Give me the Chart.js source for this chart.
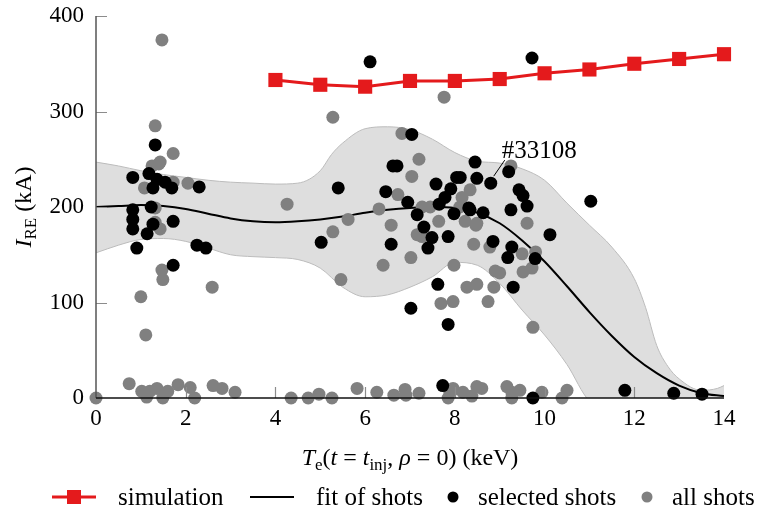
<!DOCTYPE html>
<html>
<head>
<meta charset="utf-8">
<script src="https://cdn.jsdelivr.net/npm/chart.js@4"></script>
<style>
	html, body { margin: 0; padding: 0; background: #fff; }
	canvas { display: block; }
</style>
</head>
<body>
<canvas id="chart" width="761" height="511"></canvas>
<script>
// Simulation (red squares)
const simTe = [4, 5, 6, 7, 8, 9, 10, 11, 12, 13, 14];
const simIre = [333, 328, 326, 332, 332, 334, 340, 344, 350, 355, 360];

// Fit of shots (black curve)
const fitTe = [0, 0.5, 1, 1.5, 2, 2.5, 3, 3.5, 4, 4.5, 5, 5.5, 6, 6.5, 7, 7.5, 8, 8.5, 9, 9.5, 10, 10.5, 11, 11.5, 12, 12.5, 13, 13.5, 14];
const fitIre = [200, 201, 202, 201, 198, 193, 188, 185, 184, 185, 187, 190, 194, 197, 199, 200, 199, 194, 183, 165, 143, 117, 90, 65, 43, 26, 13, 5, 2];

// Uncertainty band of the fit
const bandHighTe = [0, 0.5, 1, 1.5, 2, 2.5, 3, 3.5, 4, 4.5, 5, 5.25, 5.5, 6, 6.5, 7, 7.5, 8, 8.5, 9, 9.5, 10, 10.5, 11, 11.5, 12, 12.25, 12.5, 12.75, 13, 13.5, 13.85, 14];
const bandHighIre = [247, 243, 238, 234, 231, 228, 226, 225, 224, 225, 238, 255, 267, 282, 284, 281, 271, 257, 248, 246, 240, 228, 204, 181, 158, 125, 95, 55, 33, 20, 8, 10, 13];
const bandLowTe = [0, 0.5, 1, 1.5, 2, 2.5, 3, 3.5, 4, 4.5, 5, 5.5, 6, 6.5, 7, 7.5, 8, 8.5, 9, 9.5, 10, 10.5, 11, 11.5, 14];
const bandLowIre = [152, 160, 166, 167, 164, 157, 150, 148, 147, 145, 136, 116, 106, 108, 116, 127, 142, 139, 120, 92, 66, 35, -3, -10, -10];

// Selected shots (black dots)
const selTe = [1.32, 0.82, 1.18, 1.36, 1.54, 1.69, 1.27, 2.30, 0.82, 1.23, 0.82, 1.72, 1.27, 0.82, 1.14, 0.91, 2.25, 2.45, 1.72,
	6.11, 9.72, 5.40, 5.02, 6.58, 6.46, 6.62, 6.71, 7.04, 6.95, 7.16, 7.31, 7.49, 7.40, 7.62, 7.58, 7.91, 7.78, 7.65, 8.04, 8.12,
	7.85, 7.98, 7.02, 7.85, 9.30, 9.79, 9.18, 9.27, 8.85, 8.45, 8.49, 8.31, 8.80, 9.43, 9.52, 9.61, 9.25, 8.63, 8.34, 10.12,
	9.20, 11.03, 7.73, 9.74, 11.79, 12.88, 13.51];
const selIre = [265, 231, 235, 229, 226, 220, 220, 221, 197, 200, 187, 185, 182, 177, 172, 157, 160, 157, 139,
	352, 356, 220, 163, 161, 216, 243, 243, 276, 205, 192, 179, 168, 157, 119, 224, 219, 210, 203, 231, 231,
	169, 193, 94, 77, 116, 146, 147, 158, 164, 247, 230, 199, 225, 218, 212, 201, 197, 194, 197, 171,
	237, 206, 13, 0, 8, 5, 4];

// All shots (grey dots)
const allTe = [1.47, 1.32, 1.72, 1.40, 1.25, 1.43, 2.05, 1.08, 1.72, 1.43, 1.32, 1.32, 1.47, 1.49, 2.59, 1.00, 1.11,
	0, 0.74, 1.02, 1.13, 1.20, 1.36, 1.49, 1.60, 1.83, 2.10, 2.20, 2.61, 2.81, 3.10,
	5.28, 4.26, 5.28, 5.62, 5.46, 6.31, 6.58, 6.40, 7.04, 7.20, 6.82, 6.73, 7.27, 7.45, 7.16, 7.27, 7.02, 7.64, 7.98, 7.76,
	7.69, 7.96, 8.27, 8.49, 8.74, 8.87, 8.90, 9.00, 9.52, 9.72, 9.80, 9.50, 8.42, 8.78, 9.74, 8.34, 8.16, 8.11, 8.23, 8.47,
	9.25, 8.49, 9.61,
	4.35, 4.73, 4.97, 5.26, 5.82, 6.26, 6.64, 6.89, 6.91, 7.20, 7.85, 7.94, 7.89, 7.96, 8.18, 8.38, 8.49, 8.60, 9.16, 9.27,
	9.45, 9.27, 9.94, 10.39, 10.50];
const allIre = [375, 285, 256, 245, 243, 247, 225, 220, 226, 177, 199, 184, 134, 124, 116, 106, 66,
	0, 15, 7, 1, 7, 10, 0, 7, 14, 11, 0, 13, 10, 6,
	294, 203, 174, 187, 124, 198, 181, 139, 232, 250, 277, 213, 200, 200, 171, 169, 147, 185, 139, 315,
	99, 101, 116, 119, 101, 116, 133, 131, 132, 136, 153, 151, 161, 158, 74, 218, 210, 200, 185, 181,
	243, 183, 183,
	0, 0, 4, 0, 10, 6, 3, 9, 3, 5, 0, 8, 6, 10, 6, 2, 12, 10, 12, 6,
	8, 0, 6, 0, 8];

// Axis ticks
const xTicks = [0, 2, 4, 6, 8, 10, 12, 14];
const yTicks = [0, 100, 200, 300, 400];

// Labelled shot
const markedShotTe = 8.80;
const markedShotIre = 225;
const markedShotLabel = "#33108";

const SERIF = '"Liberation Serif", "Times New Roman", serif';
const RED = "#e41a1c";
const GREY = "#808080";

function pairs(xs, ys) {
	return xs.map((x, i) => ({ x: x, y: ys[i] }));
}

// Draw text made of several pieces (italic letters, subscripts)
function drawRich(ctx, parts, x, y) {
	const fontFor = (p) => (p.it ? "italic " : "") + (p.sub ? 17 : 24) + "px " + SERIF;
	let total = 0;
	parts.forEach((p) => {
		ctx.font = fontFor(p);
		total += ctx.measureText(p.t).width;
	});
	let cx = x - total / 2;
	ctx.textAlign = "left";
	ctx.textBaseline = "alphabetic";
	parts.forEach((p) => {
		ctx.font = fontFor(p);
		ctx.fillText(p.t, cx, y + (p.sub ? 5 : 0));
		cx += ctx.measureText(p.t).width;
	});
}

const legendItems = [
	{ kind: "sim", text: "simulation", left: 52 },
	{ kind: "line", text: "fit of shots", left: 250 },
	{ kind: "dot", color: "#000", text: "selected shots", left: 447 },
	{ kind: "dot", color: GREY, text: "all shots", left: 641 },
];

const decorations = {
	id: "decorations",
	afterDatasetsDraw(chart) {
		const { ctx, chartArea: a, scales } = chart;
		const xs = scales.x;
		const ys = scales.y;
		ctx.save();

		// inward tick marks
		ctx.strokeStyle = "#8c8c8c";
		ctx.lineWidth = 1.2;
		ctx.beginPath();
		yTicks.slice(1).forEach((v) => {
			const py = Math.round(ys.getPixelForValue(v)) + 0.5;
			ctx.moveTo(a.left, py);
			ctx.lineTo(a.left + 11, py);
		});
		xTicks.slice(1, -1).forEach((v) => {
			const px = Math.round(xs.getPixelForValue(v)) + 0.5;
			ctx.moveTo(px, a.bottom);
			ctx.lineTo(px, a.bottom - 11);
		});
		ctx.stroke();

		// axis lines
		ctx.lineWidth = 1.5;
		ctx.strokeStyle = "#555";
		ctx.beginPath();
		ctx.moveTo(a.left, a.top);
		ctx.lineTo(a.left, a.bottom);
		ctx.stroke();
		ctx.strokeStyle = "#111";
		ctx.beginPath();
		ctx.moveTo(a.left, a.bottom);
		ctx.lineTo(a.right, a.bottom);
		ctx.stroke();

		// label of the marked shot
		const sx = xs.getPixelForValue(markedShotTe);
		const sy = ys.getPixelForValue(markedShotIre);
		ctx.strokeStyle = "#000";
		ctx.lineWidth = 1;
		ctx.beginPath();
		ctx.moveTo(sx + 3, sy - 7);
		ctx.lineTo(sx + 14, sy - 23);
		ctx.stroke();
		ctx.fillStyle = "#000";
		ctx.font = "25px " + SERIF;
		ctx.textAlign = "left";
		ctx.textBaseline = "alphabetic";
		ctx.fillText(markedShotLabel, sx + 11, sy - 25);

		// axis titles
		drawRich(ctx, [
			{ t: "T", it: true }, { t: "e", sub: true }, { t: "(" }, { t: "t", it: true }, { t: " = " },
			{ t: "t", it: true }, { t: "inj", sub: true }, { t: ", " }, { t: "ρ", it: true }, { t: " = 0) (keV)" },
		], (a.left + a.right) / 2, 465);
		ctx.save();
		ctx.translate(31, (a.top + a.bottom) / 2);
		ctx.rotate(-Math.PI / 2);
		drawRich(ctx, [{ t: "I", it: true }, { t: "RE", sub: true }, { t: " (kA)" }], 0, 0);
		ctx.restore();

		// legend
		const ly = 497;
		legendItems.forEach((item) => {
			let textX;
			if (item.kind === "sim" || item.kind === "line") {
				ctx.strokeStyle = item.kind === "sim" ? RED : "#000";
				ctx.lineWidth = item.kind === "sim" ? 3 : 2;
				ctx.beginPath();
				ctx.moveTo(item.left, ly);
				ctx.lineTo(item.left + 44, ly);
				ctx.stroke();
				if (item.kind === "sim") {
					ctx.fillStyle = RED;
					ctx.fillRect(item.left + 15, ly - 7, 14, 14);
				}
				textX = item.left + 66;
			} else {
				ctx.fillStyle = item.color;
				ctx.beginPath();
				ctx.arc(item.left + 6, ly, 5.5, 0, Math.PI * 2);
				ctx.fill();
				textX = item.left + 31;
			}
			ctx.fillStyle = "#000";
			ctx.font = "25px " + SERIF;
			ctx.textAlign = "left";
			ctx.textBaseline = "alphabetic";
			ctx.fillText(item.text, textX, ly + 8);
		});
		ctx.restore();
	},
};

const tickFont = { family: SERIF, size: 23 };

const chart = new Chart(document.getElementById("chart"), {
	type: "line",
	data: {
		datasets: [
			{
				label: "simulation",
				data: pairs(simTe, simIre),
				borderColor: RED,
				backgroundColor: RED,
				borderWidth: 3,
				pointStyle: "rect",
				pointRadius: 10,
				pointHoverRadius: 10,
				pointBorderWidth: 0,
				clip: false,
				order: 0,
			},
			{
				label: "fit of shots",
				data: pairs(fitTe, fitIre),
				borderColor: "#000",
				borderWidth: 2,
				pointRadius: 0,
				cubicInterpolationMode: "monotone",
				order: 3,
			},
			{
				label: "selected shots",
				type: "scatter",
				data: pairs(selTe, selIre),
				backgroundColor: "#000",
				borderWidth: 0,
				pointRadius: 6.5,
				pointHoverRadius: 6.5,
				clip: false,
				order: 1,
			},
			{
				label: "all shots",
				type: "scatter",
				data: pairs(allTe, allIre),
				backgroundColor: GREY,
				borderWidth: 0,
				pointRadius: 6.5,
				pointHoverRadius: 6.5,
				clip: false,
				order: 2,
			},
			{
				label: "band low",
				data: pairs(bandLowTe, bandLowIre),
				borderColor: "#bcbcbc",
				borderWidth: 1,
				pointRadius: 0,
				cubicInterpolationMode: "monotone",
				fill: false,
				order: 4,
			},
			{
				label: "band high",
				data: pairs(bandHighTe, bandHighIre),
				borderColor: "#bcbcbc",
				backgroundColor: "#dedede",
				borderWidth: 1,
				pointRadius: 0,
				cubicInterpolationMode: "monotone",
				fill: "-1",
				order: 4,
			},
		],
	},
	options: {
		responsive: false,
		animation: false,
		events: [],
		layout: { padding: { left: 0, right: 37, top: 16, bottom: 0 } },
		scales: {
			x: {
				type: "linear",
				min: 0,
				max: 14,
				afterBuildTicks: (s) => { s.ticks = xTicks.map((v) => ({ value: v })); },
				afterFit: (s) => { s.height = 113; s.paddingLeft = 0; s.paddingRight = 0; },
				ticks: { font: tickFont, color: "#000", padding: 7, maxRotation: 0 },
				grid: { display: false, drawTicks: false },
				border: { display: false },
			},
			y: {
				type: "linear",
				min: 0,
				max: 400,
				afterBuildTicks: (s) => { s.ticks = yTicks.map((v) => ({ value: v })); },
				afterFit: (s) => { s.width = 96; s.paddingTop = 0; s.paddingBottom = 0; },
				ticks: { font: tickFont, color: "#000", padding: 12 },
				grid: { display: false, drawTicks: false },
				border: { display: false },
			},
		},
		plugins: {
			legend: { display: false },
			tooltip: { enabled: false },
		},
	},
	plugins: [decorations],
});
</script>
</body>
</html>
